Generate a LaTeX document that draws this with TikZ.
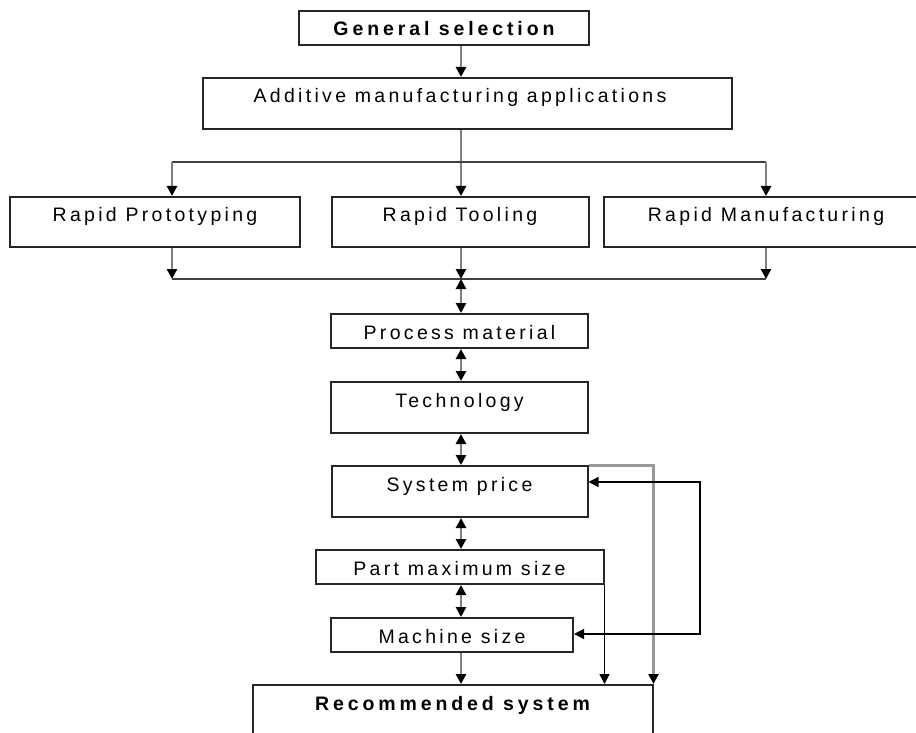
\documentclass[tikz,border=0pt]{standalone}
\usepackage{fontspec}
\newfontfamily\lbl{Liberation Sans}[LetterSpace=17, BoldFeatures={LetterSpace=20}]
\usetikzlibrary{arrows.meta}

\tikzset{
  box/.style={draw=black!85, line width=2pt, inner sep=0pt, anchor=north,
    text height=25pt, font=\lbl\fontsize{19.5}{21}\selectfont},
  boldbox/.style={box, font=\lbl\bfseries\fontsize{19.5}{21}\selectfont},
  conn/.style={draw=black!50, line width=2.6pt},
  hl/.style={draw=black!75, line width=1.8pt},
  thinline/.style={draw=black, line width=1.5pt},
  greyline/.style={draw=black!40, line width=3pt},
  arr/.style={-{Triangle[width=10pt,length=10pt,color=black]}},
  darr/.style={{Triangle[width=10pt,length=10pt,color=black]}-{Triangle[width=10pt,length=10pt,color=black]}},
}

\begin{document}
\begin{tikzpicture}[x=1pt,y=-1pt]
\useasboundingbox (0,0) rectangle (916,733);
\clip (0,0) rectangle (916,733);

% boxes: placed by top centre; text depth sets the box height
\node[boldbox, minimum width=290pt, text depth=9pt] (gen) at (444,10) {General selection};
\node[box, minimum width=529pt, text depth=26pt] (am) at (467.5,77) {\kern-15pt Additive manufacturing applications};

\node[box, minimum width=290pt, text depth=25pt] (rp) at (155,196) {Rapid Prototyping};
\node[box, minimum width=257pt, text depth=25pt] (rt) at (460,196) {Rapid Tooling};
\node[box, minimum width=324pt, text depth=25pt] (rm) at (766,196) {Rapid Manufacturing};

\node[box, minimum width=257pt, text depth=9pt]  (pm)   at (459.5,313) {Process material};
\node[box, minimum width=257pt, text depth=26pt] (tech) at (459.5,381) {Technology};
\node[box, minimum width=256pt, text depth=26pt] (sp)   at (459.5,465) {System price};
\node[box, minimum width=288pt, text depth=9pt]  (pms)  at (459.5,549) {Part maximum size};
\node[box, minimum width=242pt, text depth=9pt]  (ms)   at (452,617) {Machine size};
\node[boldbox, minimum width=400pt, text depth=60pt] (rec) at (452.5,684) {Recommended system};

% junction points of the branching lines
\coordinate (ax) at (461,0);
\coordinate (split) at (461,162);
\coordinate (splitL) at (172,162);
\coordinate (splitR) at (766,162);
\coordinate (join) at (461,279);
\coordinate (joinL) at (172,279);
\coordinate (joinR) at (766,279);
\coordinate (loopT) at (700,482);
\coordinate (loopB) at (700,634);

% main flow
\draw[conn,arr] (gen.south -| ax) -- (am.north -| ax);
\draw[conn,arr] (am.south -| ax) -- (rt.north -| ax);
\draw[hl] (splitL) -- (splitR);
\draw[conn,arr] (splitL) -- (rp.north -| splitL);
\draw[conn,arr] (splitR) -- (rm.north -| splitR);

\draw[conn,arr] (rp.south -| joinL) -- (joinL);
\draw[conn,arr] (rt.south -| join) -- (join);
\draw[conn,arr] (rm.south -| joinR) -- (joinR);
\draw[hl] (joinL) -- (joinR);

\draw[conn,darr] (join) -- (pm.north -| join);
\draw[conn,darr] (pm.south -| ax) -- (tech.north -| ax);
\draw[conn,darr] (tech.south -| ax) -- (sp.north -| ax);
\draw[conn,darr] (sp.south -| ax) -- (pms.north -| ax);
\draw[conn,darr] (pms.south -| ax) -- (ms.north -| ax);
\draw[conn,arr] (ms.south -| ax) -- (rec.north -| ax);

% side links to the recommendation
\draw[thinline,arr] (pms.south east) -- (pms.south east |- rec.north);
\draw[greyline,arr] (sp.north east) -| (rec.north east);
\draw[thinline,darr] (sp.east |- loopT) -- (loopT) -- (loopB) -- (ms.east |- loopB);
\end{tikzpicture}
\end{document}
